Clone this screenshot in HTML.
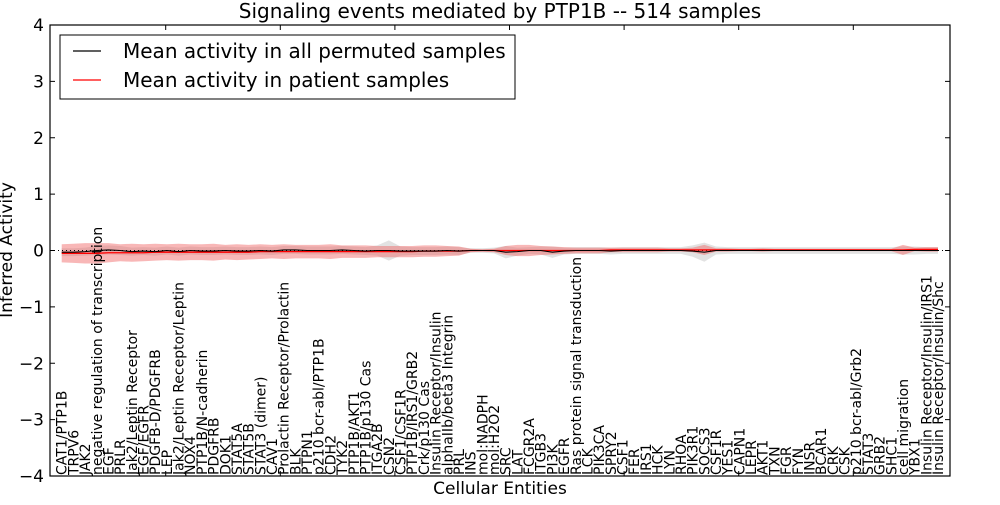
<!DOCTYPE html>
<html><head><meta charset="utf-8"><style>
body{margin:0;background:#fff;}
svg{font-family:"DejaVu Sans","Liberation Sans",sans-serif;}
</style></head><body>
<svg id="chart" width="1000" height="500" xmlns="http://www.w3.org/2000/svg">
<rect x="0" y="0" width="1000" height="500" fill="#fff"/>
<text x="500" y="18" font-size="20" text-anchor="middle">Signaling events mediated by PTP1B -- 514 samples</text>
<g id="plot"></g>
<text transform="translate(12,250) rotate(-90)" font-size="17" text-anchor="middle">Inferred Activity</text>
<text x="500" y="494" font-size="17" text-anchor="middle">Cellular Entities</text>
<g>
<rect x="60" y="35" width="455" height="64" fill="#fff" stroke="#000" stroke-width="1"/>
<line x1="73" y1="51" x2="101" y2="51" stroke="#000" stroke-width="1.2"/>
<text x="123" y="58" font-size="20">Mean activity in all permuted samples</text>
<line x1="73" y1="80" x2="101" y2="80" stroke="#f00" stroke-width="1.2"/>
<text x="123" y="87" font-size="20">Mean activity in patient samples</text>
</g>
</svg>
<script>
const categories=["CAT1/PTP1B","TRPV6","JAK2","negative regulation of transcription","EGF","PRLR","Jak2/Leptin Receptor","EGF/EGFR","PDGFB-D/PDGFRB","LEP","Jak2/Leptin Receptor/Leptin","NOX4","PTP1B/N-cadherin","PDGFRB","DOK1","STAT5A","STAT5B","STAT3 (dimer)","CAV1","Prolactin Receptor/Prolactin","BLK","PTPN1","p210 bcr-abl/PTP1B","CDH2","TYK2","PTP1B/AKT1","PTP1B/p130 Cas","ITGA2B","CSN2","CSF1/CSF1R","PTP1B/IRS1/GRB2","Crk/p130 Cas","Insulin Receptor/Insulin","alphaIIb/beta3 Integrin","PRL","INS","mol:NADPH","mol:H2O2","SRC","LAT","FCGR2A","ITGB3","PI3K","EGFR","Ras protein signal transduction","LCK","PIK3CA","SPRY2","CSF1","FER","IRS1","HCK","LYN","RHOA","PIK3R1","SOCS3","CSF1R","YES1","CAPN1","LEPR","AKT1","TXN","FGR","FYN","INSR","BCAR1","CRK","CSK","p210 bcr-abl/Grb2","STAT3","GRB2","SHC1","cell migration","YBX1","Insulin Receptor/Insulin/IRS1","Insulin Receptor/Insulin/Shc"];
const permMean=[-0.03,-0.03,-0.02,0,0.01,0,-0.02,-0.01,-0.02,0,-0.02,0,-0.01,-0.01,0,-0.01,-0.01,0,-0.01,0.01,0.01,0,0,0,0.01,0,-0.01,0,0,-0.01,-0.01,-0.01,-0.01,0,-0.01,0,0,0,-0.03,-0.02,0,0,-0.03,-0.01,0,0,0,-0.01,0,0,0,0,0,0,-0.01,-0.03,0,0,0,0,0,0,0,0,0,0,0,0,0,0,0,0,0,0,0,0];
const permSd=[0.07,0.07,0.07,0.08,0.08,0.08,0.07,0.07,0.07,0.07,0.07,0.07,0.07,0.07,0.07,0.07,0.07,0.07,0.07,0.07,0.07,0.07,0.07,0.07,0.07,0.07,0.07,0.09,0.18,0.08,0.07,0.07,0.07,0.07,0.07,0.04,0.04,0.05,0.11,0.07,0.06,0.07,0.1,0.06,0.06,0.06,0.06,0.06,0.06,0.06,0.06,0.06,0.06,0.06,0.1,0.17,0.07,0.06,0.06,0.06,0.06,0.06,0.06,0.06,0.06,0.06,0.06,0.06,0.06,0.06,0.06,0.06,0.07,0.07,0.06,0.06];
const patMean=[-0.05,-0.05,-0.05,-0.05,-0.04,-0.04,-0.04,-0.04,-0.03,-0.03,-0.03,-0.03,-0.03,-0.03,-0.03,-0.03,-0.03,-0.02,-0.02,-0.02,-0.02,-0.02,-0.02,-0.02,-0.02,-0.02,-0.02,-0.02,-0.02,-0.02,-0.02,-0.01,-0.01,-0.01,-0.01,0,0,0,0,0,0,0,0,0,0,0,0,0.01,0.01,0.01,0.01,0.01,0.01,0.01,0.01,0.01,0.01,0.01,0.01,0.01,0.01,0.01,0.01,0.01,0.01,0.01,0.01,0.01,0.01,0.01,0.01,0.01,0.01,0.02,0.02,0.02];
const patSd=[0.16,0.17,0.18,0.18,0.17,0.15,0.16,0.15,0.15,0.14,0.15,0.14,0.14,0.15,0.13,0.14,0.13,0.13,0.12,0.13,0.12,0.12,0.12,0.13,0.11,0.11,0.11,0.1,0.1,0.1,0.1,0.1,0.1,0.09,0.08,0.03,0.02,0.03,0.08,0.1,0.1,0.08,0.07,0.06,0.05,0.05,0.05,0.04,0.04,0.04,0.04,0.04,0.03,0.03,0.04,0.09,0.03,0.03,0.02,0.02,0.03,0.02,0.02,0.02,0.02,0.02,0.02,0.02,0.02,0.02,0.02,0.02,0.09,0.03,0.04,0.04];
const yTicks=[4,3,2,1,0,-1,-2,-3,-4];
const yTickLabels=["4","3","2","1","0","\u22121","\u22122","\u22123","\u22124"];

const L=50,R=950,T=25,B=476;
const xs=i=>61.7+i*((938-61.7)/75);
const ys=v=>T+(4-v)*(B-T)/8;
const NS="http://www.w3.org/2000/svg";
const g=document.getElementById('plot');
function mk(tag,attrs){const e=document.createElementNS(NS,tag);for(const k in attrs)e.setAttribute(k,attrs[k]);g.appendChild(e);return e;}
function band(m,s){let up=m.map((v,i)=>xs(i)+','+ys(v+s[i]));let dn=m.map((v,i)=>xs(i)+','+ys(v-s[i])).reverse();return up.concat(dn).join(' ');}
const gb=mk('polygon',{points:band(permMean,permSd),fill:'#d8d8d8','fill-opacity':'0.75',stroke:'none'});


const rb=mk('polygon',{points:band(patMean,patSd),fill:'#f06060','fill-opacity':'0.45',stroke:'none'});


const zl=mk('line',{x1:L,x2:R,y1:ys(0),y2:ys(0),stroke:'#000','stroke-dasharray':'1,3','stroke-width':1});


const rl=mk('polyline',{points:patMean.map((v,i)=>xs(i)+','+ys(v)).join(' '),fill:'none',stroke:'#f00','stroke-width':1.3});


const bl=mk('polyline',{points:permMean.map((v,i)=>xs(i)+','+ys(v)).join(' '),fill:'none',stroke:'#000','stroke-width':1.1});


const fr=mk('rect',{x:L,y:T,width:R-L,height:B-T,fill:'none',stroke:'#000','stroke-width':1.2});


yTicks.forEach((v,k)=>{
  mk('line',{x1:L,x2:L+5,y1:ys(v),y2:ys(v),stroke:'#000'});
  mk('line',{x1:R,x2:R-5,y1:ys(v),y2:ys(v),stroke:'#000'});
  const t=mk('text',{x:L-6,y:ys(v)+6,'font-size':17,'text-anchor':'end'});
  t.textContent=yTickLabels[k];
  
  
});
for(let k=0;k<7;k++){const x=165.7+k*114.6;mk('line',{x1:x,x2:x,y1:T,y2:T+5,stroke:'#000'});mk('line',{x1:x,x2:x,y1:B,y2:B-5,stroke:'#000'});}
categories.forEach((c,i)=>{
  const x=xs(i)+5;
  const t=mk('text',{transform:`translate(${x},${B-1}) rotate(-90)`,'font-size':14});
  t.textContent=c;
  
  
});
</script>
</body></html>
